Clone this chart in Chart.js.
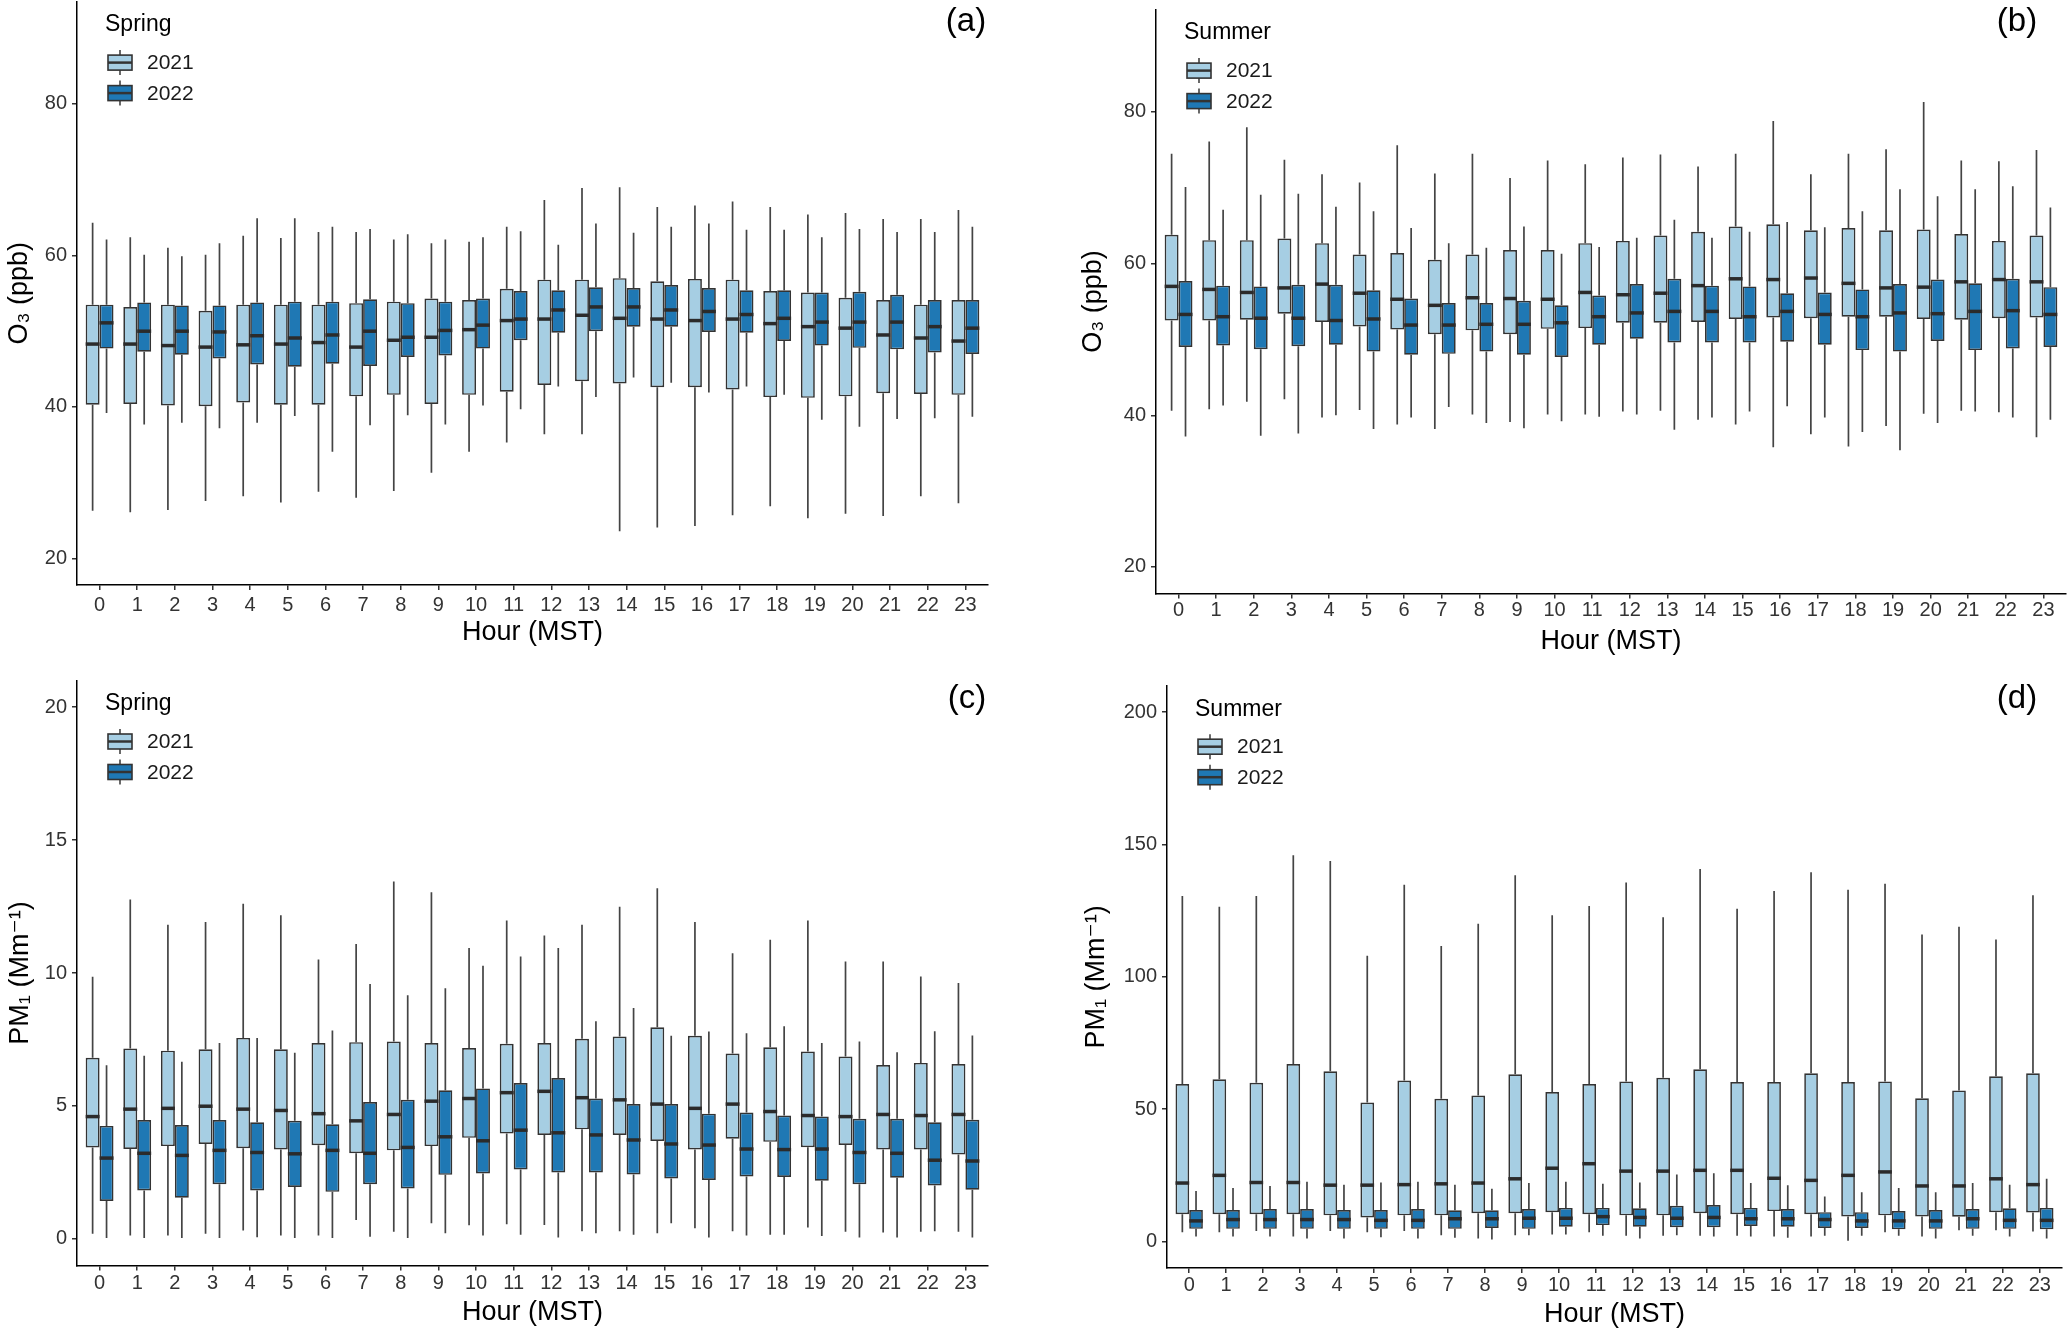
<!DOCTYPE html>
<html>
<head>
<meta charset="utf-8">
<script src="https://cdn.jsdelivr.net/npm/chart.js@4.4.1/dist/chart.umd.min.js"></script>
<style>
  body { margin: 0; background: #fff; width: 2067px; height: 1331px; position: relative; overflow: hidden; }
  canvas { position: absolute; }
</style>
</head>
<body>
<canvas id="pa"></canvas>
<canvas id="pb"></canvas>
<canvas id="pc"></canvas>
<canvas id="pd"></canvas>
<script>
// hour of day (MST)
const hours = [0, 1, 2, 3, 4, 5, 6, 7, 8, 9, 10, 11, 12, 13, 14, 15, 16, 17, 18, 19, 20, 21, 22, 23];
const o3Ticks = [20, 40, 60, 80];
const pmSpringTicks = [0, 5, 10, 15, 20];
const pmSummerTicks = [0, 50, 100, 150, 200];

// each row: [lower whisker, Q1, median, Q3, upper whisker]
const o3Spring2021 = [
  [26.3, 40.3, 48.3, 53.5, 64.3], [26.1, 40.4, 48.3, 53.2, 62.4], [26.4, 40.2, 48.1, 53.5, 61.0], [27.6, 40.1, 47.9, 52.7, 60.1],
  [28.2, 40.6, 48.2, 53.5, 62.6], [27.4, 40.3, 48.3, 53.5, 62.3], [28.8, 40.3, 48.5, 53.5, 63.1], [28.0, 41.4, 47.9, 53.7, 63.1],
  [28.9, 41.6, 48.8, 53.9, 62.1], [31.3, 40.4, 49.2, 54.3, 61.6], [34.1, 41.6, 50.2, 54.1, 61.8], [35.3, 42.0, 51.4, 55.6, 63.8],
  [36.4, 42.9, 51.6, 56.8, 67.3], [36.4, 43.4, 52.1, 56.8, 68.9], [23.6, 43.1, 51.7, 57.0, 69.0], [24.1, 42.6, 51.6, 56.6, 66.4],
  [24.3, 42.6, 51.4, 56.9, 66.6], [25.7, 42.3, 51.6, 56.8, 67.1], [26.9, 41.3, 51.0, 55.3, 66.4], [25.3, 41.2, 50.6, 55.1, 65.4],
  [25.9, 41.4, 50.4, 54.4, 65.6], [25.6, 41.8, 49.5, 54.1, 64.8], [28.2, 41.7, 49.1, 53.5, 64.8], [27.3, 41.6, 48.7, 54.1, 66.0]
];
const o3Spring2022 = [
  [39.2, 47.7, 51.1, 53.5, 62.1], [37.7, 47.3, 50.0, 53.8, 60.1], [37.9, 46.9, 50.0, 53.4, 59.9], [37.2, 46.4, 49.9, 53.4, 61.6],
  [37.9, 45.6, 49.4, 53.8, 64.9], [38.8, 45.3, 49.1, 53.9, 64.9], [34.1, 45.7, 49.5, 53.9, 63.8], [37.6, 45.4, 50.0, 54.2, 63.5],
  [38.9, 46.6, 49.2, 53.7, 62.8], [37.7, 46.8, 50.1, 53.9, 62.1], [40.2, 47.7, 50.8, 54.3, 62.4], [39.7, 48.8, 51.6, 55.3, 63.2],
  [42.7, 49.8, 52.8, 55.4, 61.4], [41.3, 50.0, 53.2, 55.8, 64.2], [43.9, 50.6, 53.2, 55.7, 63.0], [43.2, 50.6, 52.8, 56.1, 63.8],
  [41.9, 49.9, 52.6, 55.7, 64.2], [42.7, 49.8, 52.2, 55.4, 63.4], [41.6, 48.7, 51.7, 55.4, 63.4], [38.3, 48.1, 51.2, 55.1, 62.4],
  [37.4, 47.8, 51.2, 55.2, 63.5], [38.4, 47.6, 51.2, 54.8, 63.1], [38.5, 47.2, 50.6, 54.1, 63.1], [38.7, 47.0, 50.4, 54.1, 63.8]
];
const o3Summer2021 = [
  [40.6, 52.5, 57.0, 63.8, 74.5], [40.8, 52.5, 56.6, 63.1, 76.1], [41.8, 52.6, 56.2, 63.1, 78.0], [42.1, 53.4, 56.8, 63.3, 73.7],
  [39.7, 52.3, 57.3, 62.7, 71.8], [40.7, 51.7, 56.1, 61.2, 70.7], [38.8, 51.3, 55.3, 61.4, 75.6], [38.2, 50.7, 54.5, 60.5, 71.9],
  [40.1, 51.2, 55.5, 61.2, 74.5], [39.1, 50.7, 55.4, 61.8, 71.3], [40.1, 51.4, 55.3, 61.8, 73.6], [40.1, 51.5, 56.2, 62.7, 73.1],
  [40.5, 52.2, 55.9, 63.0, 74.0], [40.6, 52.2, 56.1, 63.7, 74.4], [39.4, 52.3, 57.1, 64.2, 72.8], [38.8, 52.7, 58.0, 64.9, 74.5],
  [35.8, 52.9, 57.9, 65.2, 78.8], [37.5, 52.8, 58.1, 64.4, 71.8], [35.9, 53.0, 57.4, 64.7, 74.5], [38.6, 53.0, 56.8, 64.4, 75.1],
  [40.2, 52.7, 56.9, 64.5, 81.3], [40.6, 52.6, 57.6, 63.9, 73.6], [40.4, 52.8, 57.9, 63.0, 73.5], [37.1, 52.9, 57.6, 63.7, 75.0]
];
const o3Summer2022 = [
  [37.2, 49.0, 53.3, 57.7, 70.1], [41.3, 49.2, 53.0, 57.1, 67.1], [37.3, 48.7, 52.8, 57.0, 69.1], [37.6, 49.1, 52.8, 57.2, 69.2],
  [40.0, 49.3, 52.5, 57.2, 67.5], [38.2, 48.4, 52.7, 56.5, 66.9], [39.7, 48.0, 51.9, 55.4, 64.7], [41.1, 48.1, 51.9, 54.8, 62.7],
  [39.0, 48.4, 52.0, 54.8, 62.1], [38.3, 48.0, 52.0, 55.1, 64.9], [39.2, 47.7, 52.2, 54.5, 61.3], [39.8, 49.3, 53.0, 55.8, 62.2],
  [40.1, 50.1, 53.5, 57.3, 63.4], [38.1, 49.6, 53.7, 58.0, 65.8], [39.7, 49.6, 53.7, 57.1, 63.4], [40.5, 49.6, 53.0, 57.0, 64.2],
  [41.2, 49.7, 53.7, 56.1, 65.5], [39.7, 49.3, 53.3, 56.2, 64.8], [37.8, 48.6, 53.0, 56.6, 66.9], [35.4, 48.4, 53.5, 57.3, 69.8],
  [39.0, 49.8, 53.4, 57.9, 68.9], [40.5, 48.6, 53.7, 57.4, 69.8], [39.7, 48.8, 53.8, 58.0, 70.2], [39.4, 49.0, 53.3, 56.9, 67.4]
];
const pmSpring2021 = [
  [0.19, 3.44, 4.60, 6.81, 9.86], [0.13, 3.38, 4.88, 7.16, 12.76], [0.13, 3.49, 4.91, 7.08, 11.81], [0.19, 3.57, 4.99, 7.13, 11.92],
  [0.32, 3.41, 4.88, 7.56, 12.60], [0.13, 3.36, 4.83, 7.13, 12.17], [0.13, 3.52, 4.71, 7.37, 10.51], [0.71, 3.22, 4.44, 7.40, 11.09],
  [0.27, 3.33, 4.68, 7.42, 13.44], [0.59, 3.49, 5.18, 7.37, 13.04], [0.51, 3.80, 5.28, 7.18, 10.94], [0.55, 3.96, 5.50, 7.34, 11.97],
  [0.52, 3.91, 5.55, 7.37, 11.41], [0.29, 4.12, 5.31, 7.53, 11.81], [0.29, 3.91, 5.23, 7.61, 12.49], [0.21, 3.68, 5.07, 7.96, 13.19],
  [0.40, 3.36, 4.91, 7.64, 11.92], [0.29, 3.77, 5.07, 6.97, 10.74], [0.16, 3.65, 4.79, 7.21, 11.25], [0.43, 3.45, 4.64, 7.05, 11.97],
  [0.27, 3.53, 4.60, 6.86, 10.43], [0.24, 3.36, 4.68, 6.54, 10.43], [0.27, 3.36, 4.64, 6.62, 9.87], [0.27, 3.17, 4.68, 6.58, 9.62]
];
const pmSpring2022 = [
  [0.03, 1.43, 3.04, 4.25, 6.53], [0.03, 1.82, 3.22, 4.47, 6.89], [0.03, 1.55, 3.14, 4.28, 6.66], [0.03, 2.06, 3.33, 4.47, 7.37],
  [0.06, 1.82, 3.25, 4.39, 7.56], [0.03, 1.95, 3.20, 4.44, 7.00], [0.03, 1.77, 3.33, 4.31, 7.84], [0.08, 2.06, 3.22, 5.15, 9.59],
  [0.03, 1.90, 3.44, 5.23, 9.16], [0.21, 2.41, 3.84, 5.59, 9.43], [0.13, 2.46, 3.69, 5.66, 10.27], [0.16, 2.61, 4.09, 5.86, 10.62],
  [0.05, 2.50, 3.99, 6.05, 10.94], [0.21, 2.50, 3.91, 5.28, 8.19], [0.16, 2.42, 3.72, 5.07, 8.68], [0.59, 2.27, 3.57, 5.07, 7.64],
  [0.05, 2.22, 3.53, 4.71, 7.80], [0.13, 2.35, 3.38, 4.75, 7.73], [0.16, 2.33, 3.36, 4.64, 8.00], [0.11, 2.19, 3.38, 4.60, 7.37],
  [0.05, 2.06, 3.25, 4.52, 7.42], [0.05, 2.30, 3.22, 4.52, 7.02], [0.29, 2.01, 2.96, 4.39, 7.81], [0.05, 1.85, 2.93, 4.48, 7.65]
];
const pmSummer2021 = [
  [3.5, 10.3, 22.1, 59.5, 130.5], [3.5, 10.3, 25.0, 61.3, 126.5], [4.0, 10.3, 22.3, 60.0, 130.5], [1.9, 10.3, 22.3, 67.1, 145.9],
  [4.0, 9.9, 21.3, 64.3, 143.8], [3.5, 9.1, 21.3, 52.5, 108.0], [4.0, 9.9, 21.5, 60.8, 134.8], [2.4, 9.9, 21.8, 53.9, 111.7],
  [1.1, 10.7, 22.1, 55.2, 120.1], [2.4, 10.7, 23.7, 63.2, 138.4], [2.7, 11.1, 27.7, 56.5, 123.3], [3.5, 10.3, 29.4, 59.5, 126.8],
  [2.2, 9.9, 26.6, 60.5, 135.6], [2.2, 9.9, 26.6, 61.9, 122.5], [2.2, 10.7, 26.9, 65.1, 140.7], [2.2, 10.3, 26.9, 60.3, 125.7],
  [1.9, 11.5, 23.9, 60.3, 132.4], [1.9, 10.3, 23.1, 63.6, 139.5], [0.3, 9.5, 25.0, 60.3, 132.9], [3.5, 9.9, 26.3, 60.5, 135.2],
  [1.9, 9.5, 21.0, 54.1, 116.0], [4.3, 9.4, 21.0, 57.1, 118.9], [4.3, 11.1, 23.7, 62.4, 114.1], [3.8, 11.0, 21.5, 63.6, 130.8]
];
const pmSummer2022 = [
  [1.9, 4.8, 7.8, 11.9, 19.1], [1.9, 4.8, 8.3, 11.9, 20.2], [1.9, 4.8, 8.3, 12.3, 21.0], [1.1, 4.8, 8.3, 12.3, 22.6],
  [1.1, 4.8, 8.3, 11.9, 21.5], [1.6, 4.8, 8.0, 11.9, 22.3], [1.1, 4.8, 8.0, 12.3, 22.6], [1.4, 4.8, 8.6, 11.8, 21.5],
  [0.8, 5.1, 8.6, 11.8, 19.9], [2.4, 4.8, 8.8, 12.3, 22.1], [2.7, 5.6, 8.8, 12.7, 22.6], [2.2, 6.2, 9.4, 12.7, 21.8],
  [1.1, 5.6, 9.1, 12.6, 22.3], [2.4, 5.4, 8.8, 13.5, 25.3], [1.9, 5.4, 9.1, 13.8, 25.8], [1.9, 5.9, 8.6, 12.7, 22.1],
  [1.4, 5.6, 8.6, 12.3, 21.3], [2.2, 5.1, 8.3, 11.1, 17.0], [2.2, 5.1, 7.8, 11.1, 18.6], [2.2, 4.6, 7.8, 11.5, 20.2],
  [1.1, 4.8, 7.8, 11.9, 18.6], [2.2, 4.8, 8.6, 12.3, 22.1], [1.9, 4.8, 8.0, 12.6, 21.5], [1.1, 4.6, 8.0, 12.7, 23.7]
];

const FONT = "'Liberation Sans', 'DejaVu Sans', Arial, sans-serif";
Chart.defaults.font.family = FONT;
Chart.defaults.color = '#333';

// whiskers under the boxes, medians on top
const whiskers = {
  id: 'whiskers',
  beforeDatasetsDraw(chart) {
    const ctx = chart.ctx, y = chart.scales.y;
    ctx.save();
    ctx.strokeStyle = '#444';
    ctx.lineWidth = 1.7;
    chart.data.datasets.forEach((ds, di) => {
      chart.getDatasetMeta(di).data.forEach((bar, i) => {
        const s = ds.stats[i];
        ctx.beginPath();
        ctx.moveTo(bar.x, y.getPixelForValue(s[4]));
        ctx.lineTo(bar.x, y.getPixelForValue(s[3]));
        ctx.moveTo(bar.x, y.getPixelForValue(s[1]));
        ctx.lineTo(bar.x, y.getPixelForValue(s[0]));
        ctx.stroke();
      });
    });
    ctx.restore();
  },
  afterDatasetsDraw(chart) {
    const ctx = chart.ctx, y = chart.scales.y;
    ctx.save();
    ctx.strokeStyle = '#2b2b2b';
    ctx.lineWidth = 3.5;
    chart.data.datasets.forEach((ds, di) => {
      chart.getDatasetMeta(di).data.forEach((bar, i) => {
        const py = y.getPixelForValue(ds.stats[i][2]);
        ctx.beginPath();
        ctx.moveTo(bar.x - bar.width / 2, py);
        ctx.lineTo(bar.x + bar.width / 2, py);
        ctx.stroke();
      });
    });
    ctx.restore();
  }
};

// ggplot-style legend inside the panel + panel tag
const boxLegend = {
  id: 'boxLegend',
  afterDraw(chart, args, opts) {
    const ctx = chart.ctx, a = chart.chartArea;
    ctx.save();
    ctx.textAlign = 'left';
    ctx.textBaseline = 'middle';
    ctx.fillStyle = '#000';
    ctx.font = '23px ' + FONT;
    ctx.fillText(opts.title, a.left + 28, a.top + 23.5);
    chart.data.datasets.forEach((ds, i) => {
      const cy = a.top + 61 + i * 30.5, x0 = a.left + 31, w = 24, h = 15;
      ctx.strokeStyle = '#444';
      ctx.lineWidth = 1.6;
      ctx.beginPath();
      ctx.moveTo(x0 + w / 2, cy - h / 2 - 5); ctx.lineTo(x0 + w / 2, cy - h / 2);
      ctx.moveTo(x0 + w / 2, cy + h / 2); ctx.lineTo(x0 + w / 2, cy + h / 2 + 5);
      ctx.stroke();
      ctx.fillStyle = ds.backgroundColor;
      ctx.fillRect(x0, cy - h / 2, w, h);
      ctx.strokeStyle = '#333';
      ctx.strokeRect(x0, cy - h / 2, w, h);
      ctx.lineWidth = 2.5;
      ctx.beginPath();
      ctx.moveTo(x0, cy); ctx.lineTo(x0 + w, cy);
      ctx.stroke();
      ctx.fillStyle = '#1a1a1a';
      ctx.font = '21px ' + FONT;
      ctx.fillText(ds.label, a.left + 70, cy + 1);
    });
    ctx.fillStyle = '#000';
    ctx.textAlign = 'center';
    ctx.font = '33px ' + FONT;
    ctx.fillText(opts.tag, opts.tagX, opts.tagY);
    ctx.restore();
  }
};

const panels = [
  { id: 'pa', left: 0, top: 0, w: 1030, h: 660, plot: [77, 1.6, 988, 585], yMin: 16.5, yMax: 93.5, yTicks: o3Ticks,
    yTitle: 'O₃ (ppb)', season: 'Spring', tag: '(a)', tagAt: [966, 22], d2021: o3Spring2021, d2022: o3Spring2022,
    xLabelPad: 3, xTitlePad: 10.8, yTitlePad: 3.8 },
  { id: 'pb', left: 1060, top: 0, w: 1007, h: 665, plot: [1156, 9.6, 2066, 593.5], yMin: 16.5, yMax: 93.5, yTicks: o3Ticks,
    yTitle: 'O₃ (ppb)', season: 'Summer', tag: '(b)', tagAt: [957, 22], d2021: o3Summer2021, d2022: o3Summer2022,
    xLabelPad: 0, xTitlePad: 6.8, yTitlePad: 17.8 },
  { id: 'pc', left: 0, top: 660, w: 1030, h: 671, plot: [77, 680.5, 988, 1265.5], yMin: -1, yMax: 21, yTicks: pmSpringTicks,
    yTitle: 'PM₁ (Mm⁻¹)', season: 'Spring', tag: '(c)', tagAt: [967, 39], d2021: pmSpring2021, d2022: pmSpring2022,
    xLabelPad: 1, xTitlePad: 1.8, yTitlePad: 4.8 },
  { id: 'pd', left: 1060, top: 660, w: 1007, h: 671, plot: [1167, 685.7, 2062, 1268], yMin: -10, yMax: 210, yTicks: pmSummerTicks,
    yTitle: 'PM₁ (Mm⁻¹)', season: 'Summer', tag: '(d)', tagAt: [957, 39], d2021: pmSummer2021, d2022: pmSummer2022,
    xLabelPad: 0.5, xTitlePad: 0, yTitlePad: 20.8 }
];

const toBoxes = stats => stats.map((s, i) => ({ x: hours[i], y: [s[1], s[3]] }));

panels.forEach(p => {
  const canvas = document.getElementById(p.id);
  canvas.width = p.w;
  canvas.height = p.h;
  canvas.style.left = p.left + 'px';
  canvas.style.top = p.top + 'px';
  canvas.style.width = p.w + 'px';
  canvas.style.height = p.h + 'px';

  const boxStyle = { borderColor: '#333', borderWidth: 1.7, borderSkipped: false, categoryPercentage: 0.74, barPercentage: 1 };

  new Chart(canvas, {
    type: 'bar',
    plugins: [whiskers, boxLegend],
    data: {
      datasets: [
        Object.assign({ label: '2021', data: toBoxes(p.d2021), stats: p.d2021, backgroundColor: '#A6CEE3' }, boxStyle),
        Object.assign({ label: '2022', data: toBoxes(p.d2022), stats: p.d2022, backgroundColor: '#1F78B4' }, boxStyle)
      ]
    },
    options: {
      responsive: false,
      animation: false,
      layout: { padding: { left: 0, top: p.plot[1] - p.top, right: p.left + p.w - p.plot[2], bottom: 0 } },
      plugins: {
        legend: { display: false },
        tooltip: { enabled: false },
        boxLegend: { title: p.season, tag: p.tag, tagX: p.tagAt[0], tagY: p.tagAt[1] }
      },
      scales: {
        x: {
          type: 'linear',
          offset: false,
          min: -0.6,
          max: 23.6,
          afterBuildTicks: axis => { axis.ticks = hours.map(h => ({ value: h })); },
          afterFit: s => { s.height = p.top + p.h - p.plot[3]; s.paddingLeft = 0; s.paddingRight = 0; },
          ticks: { autoSkip: false, maxRotation: 0, padding: p.xLabelPad, color: '#333', font: { size: 20 },
                   callback: v => String(v) },
          grid: { offset: false, drawOnChartArea: false, tickLength: 5, color: '#333', lineWidth: 1.5 },
          border: { display: true, color: '#000', width: 1.5 },
          title: { display: true, text: 'Hour (MST)', color: '#000', font: { size: 27 }, padding: { top: 0, bottom: p.xTitlePad } }
        },
        y: {
          min: p.yMin,
          max: p.yMax,
          afterBuildTicks: axis => { axis.ticks = p.yTicks.map(v => ({ value: v })); },
          afterFit: s => { s.width = p.plot[0] - p.left; s.paddingTop = 0; s.paddingBottom = 0; },
          ticks: { padding: 5, color: '#333', font: { size: 20 }, callback: v => String(v) },
          grid: { drawOnChartArea: false, tickLength: 5, color: '#333', lineWidth: 1.5 },
          border: { display: true, color: '#000', width: 1.5 },
          title: { display: true, text: p.yTitle, color: '#000', font: { size: 27 }, padding: { top: p.yTitlePad, bottom: 0 } }
        }
      }
    }
  });
});
</script>
</body>
</html>
